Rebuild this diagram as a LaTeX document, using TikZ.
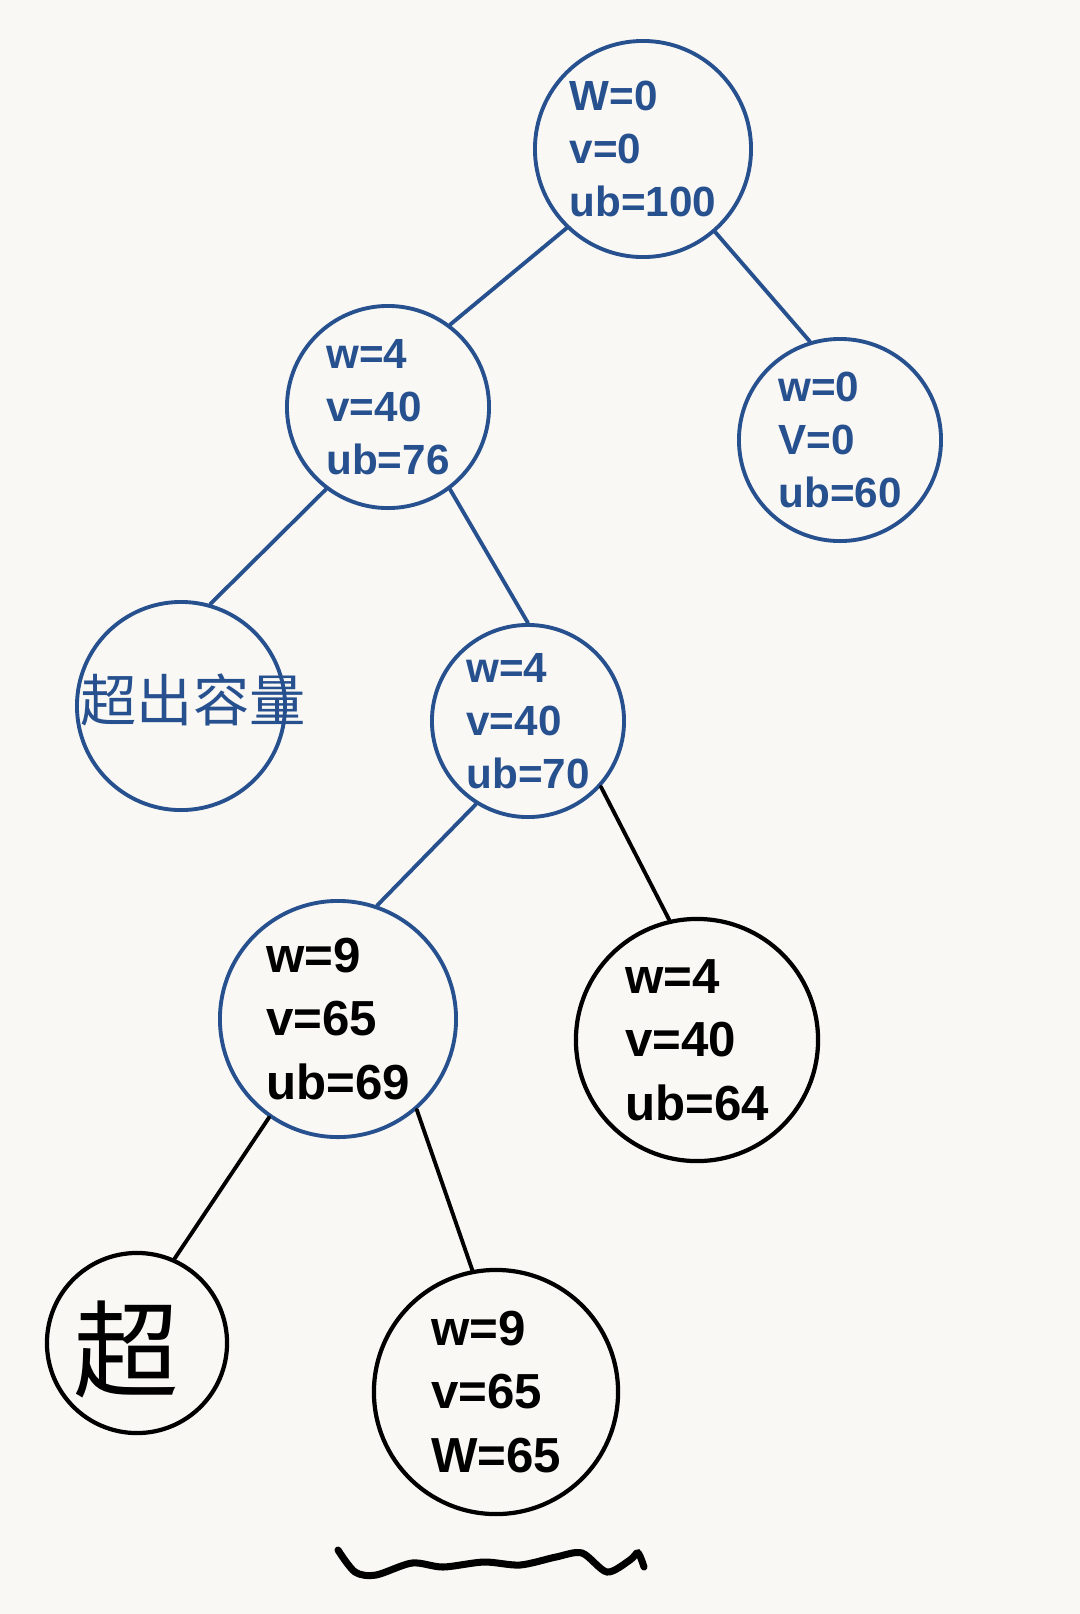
\documentclass[tikz,border=0pt]{standalone}
\usepackage{fontspec}
\setmainfont{Liberation Sans}
\newfontfamily\cjk{Noto Sans CJK SC}
\usepackage{xcolor}
\definecolor{ink}{HTML}{27508F}
\definecolor{paper}{HTML}{F9F8F4}

\begin{document}
\begin{tikzpicture}[x=0.01cm, y=-0.01cm,
  bub/.style={draw=ink, circle, line width=1.1pt, inner sep=0pt},
  blk/.style={draw=black, circle, line width=1.2pt, inner sep=0pt},
  bt/.style={text=ink, align=left, font=\fontsize{12}{15}\selectfont\bfseries},
  kt/.style={text=black, align=left, font=\fontsize{14}{18}\selectfont\bfseries},
  edge/.style={line width=1.1pt, line cap=round}]
\fill[paper] (0,0) rectangle (1080,1614);
\useasboundingbox (0,0) rectangle (1080,1614);
% upper part, blue ink
\node[bub, bt, minimum size=2.16cm] (root) at (643,149) {W=0\\v=0\\ub=100};
\node[bub, bt, minimum size=2.02cm] (l1) at (388,407) {w=4\\v=40\\ub=76};
\node[bub, bt, minimum size=2.02cm] (r1) at (840,440) {w=0\\V=0\\ub=60};
\node[bub, minimum size=2.08cm] (fail) at (181,706) {};
\node[text=ink, font=\cjk\fontsize{16}{16}\selectfont] (failtxt) at (193,700) {超出容量};
\node[bub, bt, minimum size=1.92cm] (l2) at (528,721) {w=4\\v=40\\ub=70};
\draw[ink, edge] (root.226) -- (l1.53) (root.311) -- (r1.107);
\draw[ink, edge] (l1.233) -- (fail.74) (l1.307) -- (l2.90);
% lower part, black ink
\node[bub, kt, minimum size=2.36cm] (l3) at (338,1019) {w=9\\v=65\\ub=69};
\node[blk, kt, minimum size=2.42cm] (r3) at (697,1040) {w=4\\v=40\\ub=64};
\node[blk, minimum size=1.80cm] (over) at (137,1343) {};
\node[font=\cjk\fontsize{30}{30}\selectfont] (overtxt) at (126,1349) {超};
\node[blk, kt, minimum size=2.44cm] (last) at (496,1392) {w=9\\v=65\\W=65};
\draw[ink, edge] (l2.238) -- (l3.71);
\draw[edge] (l2.318) -- (r3.103);
\draw[edge] (l3.235) -- (over.66) (l3.311) -- (last.101);
\draw[line width=2pt, line cap=round] plot[smooth] coordinates {(338,1550) (355,1572) (376,1575) (412,1563) (443,1567) (484,1562) (520,1565) (556,1557) (582,1553) (607,1572) (630,1560) (638,1553) (644,1567)};
\end{tikzpicture}
\end{document}
